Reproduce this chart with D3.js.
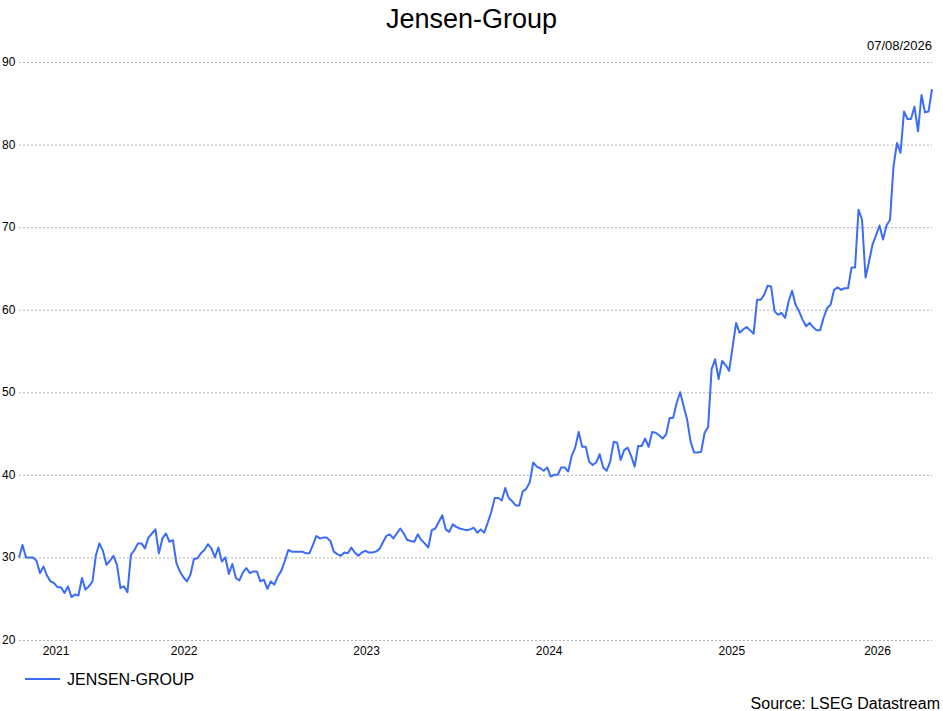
<!DOCTYPE html>
<html>
<head>
<meta charset="utf-8">
<script src="https://cdn.jsdelivr.net/npm/d3@7"></script>
<style>
  body { margin: 0; background: #fff; }
  svg { font-family: "Liberation Sans", Arial, sans-serif; }
</style>
</head>
<body>
<div id="chart"></div>
<script>
// weekly closing prices, first week 06/08/2021, last week 07/08/2026
const seriesName = "JENSEN-GROUP";
const startDate = "2021-08-06";
const endLabel = "07/08/2026";
const prices = [
  30.0, 31.5, 30.0, 30.0, 30.0, 29.6, 28.1, 28.9, 27.8, 27.1,
  26.9, 26.4, 26.4, 25.7, 26.5, 25.2, 25.5, 25.4, 27.5, 26.1,
  26.5, 27.1, 30.3, 31.7, 30.8, 29.1, 29.6, 30.2, 29.1, 26.3,
  26.5, 25.8, 30.3, 30.9, 31.7, 31.7, 31.1, 32.4, 32.9, 33.4,
  30.5, 32.3, 32.9, 31.9, 32.1, 29.3, 28.3, 27.6, 27.1, 27.9,
  29.8, 29.9, 30.5, 30.9, 31.6, 31.1, 30.0, 31.2, 29.5, 30.0,
  28.0, 29.2, 27.5, 27.2, 28.2, 28.7, 28.1, 28.3, 28.3, 27.1,
  27.3, 26.2, 27.1, 26.7, 27.7, 28.4, 29.6, 30.9, 30.7, 30.7,
  30.7, 30.7, 30.5, 30.5, 31.5, 32.6, 32.3, 32.4, 32.4, 32.0,
  30.7, 30.4, 30.2, 30.6, 30.5, 31.2, 30.6, 30.2, 30.6, 30.8,
  30.6, 30.6, 30.7, 31.0, 31.8, 32.6, 32.8, 32.3, 32.9, 33.5,
  32.9, 32.1, 32.0, 31.9, 32.8, 32.1, 31.7, 31.2, 33.3, 33.5,
  34.3, 35.1, 33.4, 33.1, 34.0, 33.7, 33.5, 33.4, 33.3, 33.4,
  33.6, 33.0, 33.4, 33.0, 34.2, 35.5, 37.2, 37.2, 36.9, 38.4,
  37.2, 36.8, 36.3, 36.3, 38.0, 38.3, 39.1, 41.5, 41.0, 40.8,
  40.5, 40.9, 39.8, 40.0, 40.0, 40.9, 40.9, 40.4, 42.3, 43.3,
  45.2, 43.4, 43.4, 41.6, 41.2, 41.5, 42.5, 40.9, 40.5, 41.6,
  44.0, 43.9, 41.8, 43.0, 43.3, 42.3, 41.0, 43.5, 43.5, 44.4,
  43.4, 45.2, 45.1, 44.8, 44.4, 44.9, 46.9, 46.9, 48.7, 50.0,
  48.3, 46.7, 44.0, 42.7, 42.7, 42.8, 45.1, 45.8, 52.8, 54.0,
  51.6, 53.8, 53.3, 52.6, 55.5, 58.4, 57.2, 57.6, 57.9, 57.5,
  57.1, 61.2, 61.2, 61.8, 62.9, 62.8, 59.8, 59.4, 59.6, 59.0,
  61.0, 62.3, 60.6, 59.8, 58.8, 58.0, 58.4, 57.9, 57.5, 57.5,
  59.0, 60.2, 60.6, 62.4, 62.7, 62.4, 62.6, 62.6, 65.1, 65.1,
  72.1, 70.9, 63.9, 65.8, 67.9, 69.0, 70.2, 68.5, 70.2, 70.9,
  77.4, 80.2, 79.0, 84.0, 83.1, 83.1, 84.6, 81.6, 86.0, 83.9,
  84.0, 86.7
];
const yTicks = [20, 30, 40, 50, 60, 70, 80, 90];
const years = [2021, 2022, 2023, 2024, 2025, 2026];

const W = 943, H = 711;
const margin = {top: 62, right: 11, bottom: 71, left: 19};

const parse = d3.timeParse("%Y-%m-%d");
const t0 = parse(startDate);
const data = prices.map((v, i) => ({date: d3.timeDay.offset(t0, 7 * i), value: v}));

const svg = d3.select("#chart")
  .append("svg")
  .attr("width", W)
  .attr("height", H);

const x = d3.scaleTime()
  .domain(d3.extent(data, d => d.date))
  .range([margin.left, W - margin.right]);

const y = d3.scaleLinear()
  .domain([20, 90])
  .range([H - margin.bottom, margin.top]);

// title
svg.append("text")
  .attr("x", W / 2)
  .attr("y", 28)
  .attr("text-anchor", "middle")
  .style("font-size", "27px")
  .text("Jensen-Group");

svg.append("text")
  .attr("x", W - margin.right)
  .attr("y", 50)
  .attr("text-anchor", "end")
  .style("font-size", "13px")
  .text(endLabel);

// gridlines + y labels
const grid = svg.append("g");
grid.selectAll("line")
  .data(yTicks)
  .join("line")
  .attr("x1", margin.left)
  .attr("x2", W - margin.right)
  .attr("y1", d => y(d) + 0.5)
  .attr("y2", d => y(d) + 0.5)
  .attr("stroke", "#b4b4b4")
  .attr("stroke-width", 1)
  .attr("stroke-dasharray", "2,2");

grid.selectAll("text")
  .data(yTicks)
  .join("text")
  .attr("x", 2)
  .attr("y", d => y(d) + 4)
  .style("font-size", "12px")
  .text(d => d);

// year labels centred in the visible part of each year
const [d0, d1] = x.domain();
svg.append("g").selectAll("text")
  .data(years)
  .join("text")
  .attr("x", yr => {
    const a = new Date(Math.max(d0, new Date(yr, 0, 1)));
    const b = new Date(Math.min(d1, new Date(yr + 1, 0, 1)));
    return (x(a) + x(b)) / 2;
  })
  .attr("y", H - margin.bottom + 15)
  .attr("text-anchor", "middle")
  .style("font-size", "12px")
  .text(d => d);

// the line
svg.append("path")
  .datum(data)
  .attr("fill", "none")
  .attr("stroke", "#3b6cf6")
  .attr("stroke-width", 2)
  .attr("stroke-linejoin", "round")
  .attr("d", d3.line().x(d => x(d.date)).y(d => y(d.value)));

// legend
svg.append("line")
  .attr("x1", 25).attr("x2", 60)
  .attr("y1", 679).attr("y2", 679)
  .attr("stroke", "#3b6cf6")
  .attr("stroke-width", 2);
svg.append("text")
  .attr("x", 67)
  .attr("y", 685)
  .style("font-size", "16px")
  .text(seriesName);

svg.append("text")
  .attr("x", W - 3)
  .attr("y", 709)
  .attr("text-anchor", "end")
  .style("font-size", "16px")
  .text("Source: LSEG Datastream");
</script>
</body>
</html>
